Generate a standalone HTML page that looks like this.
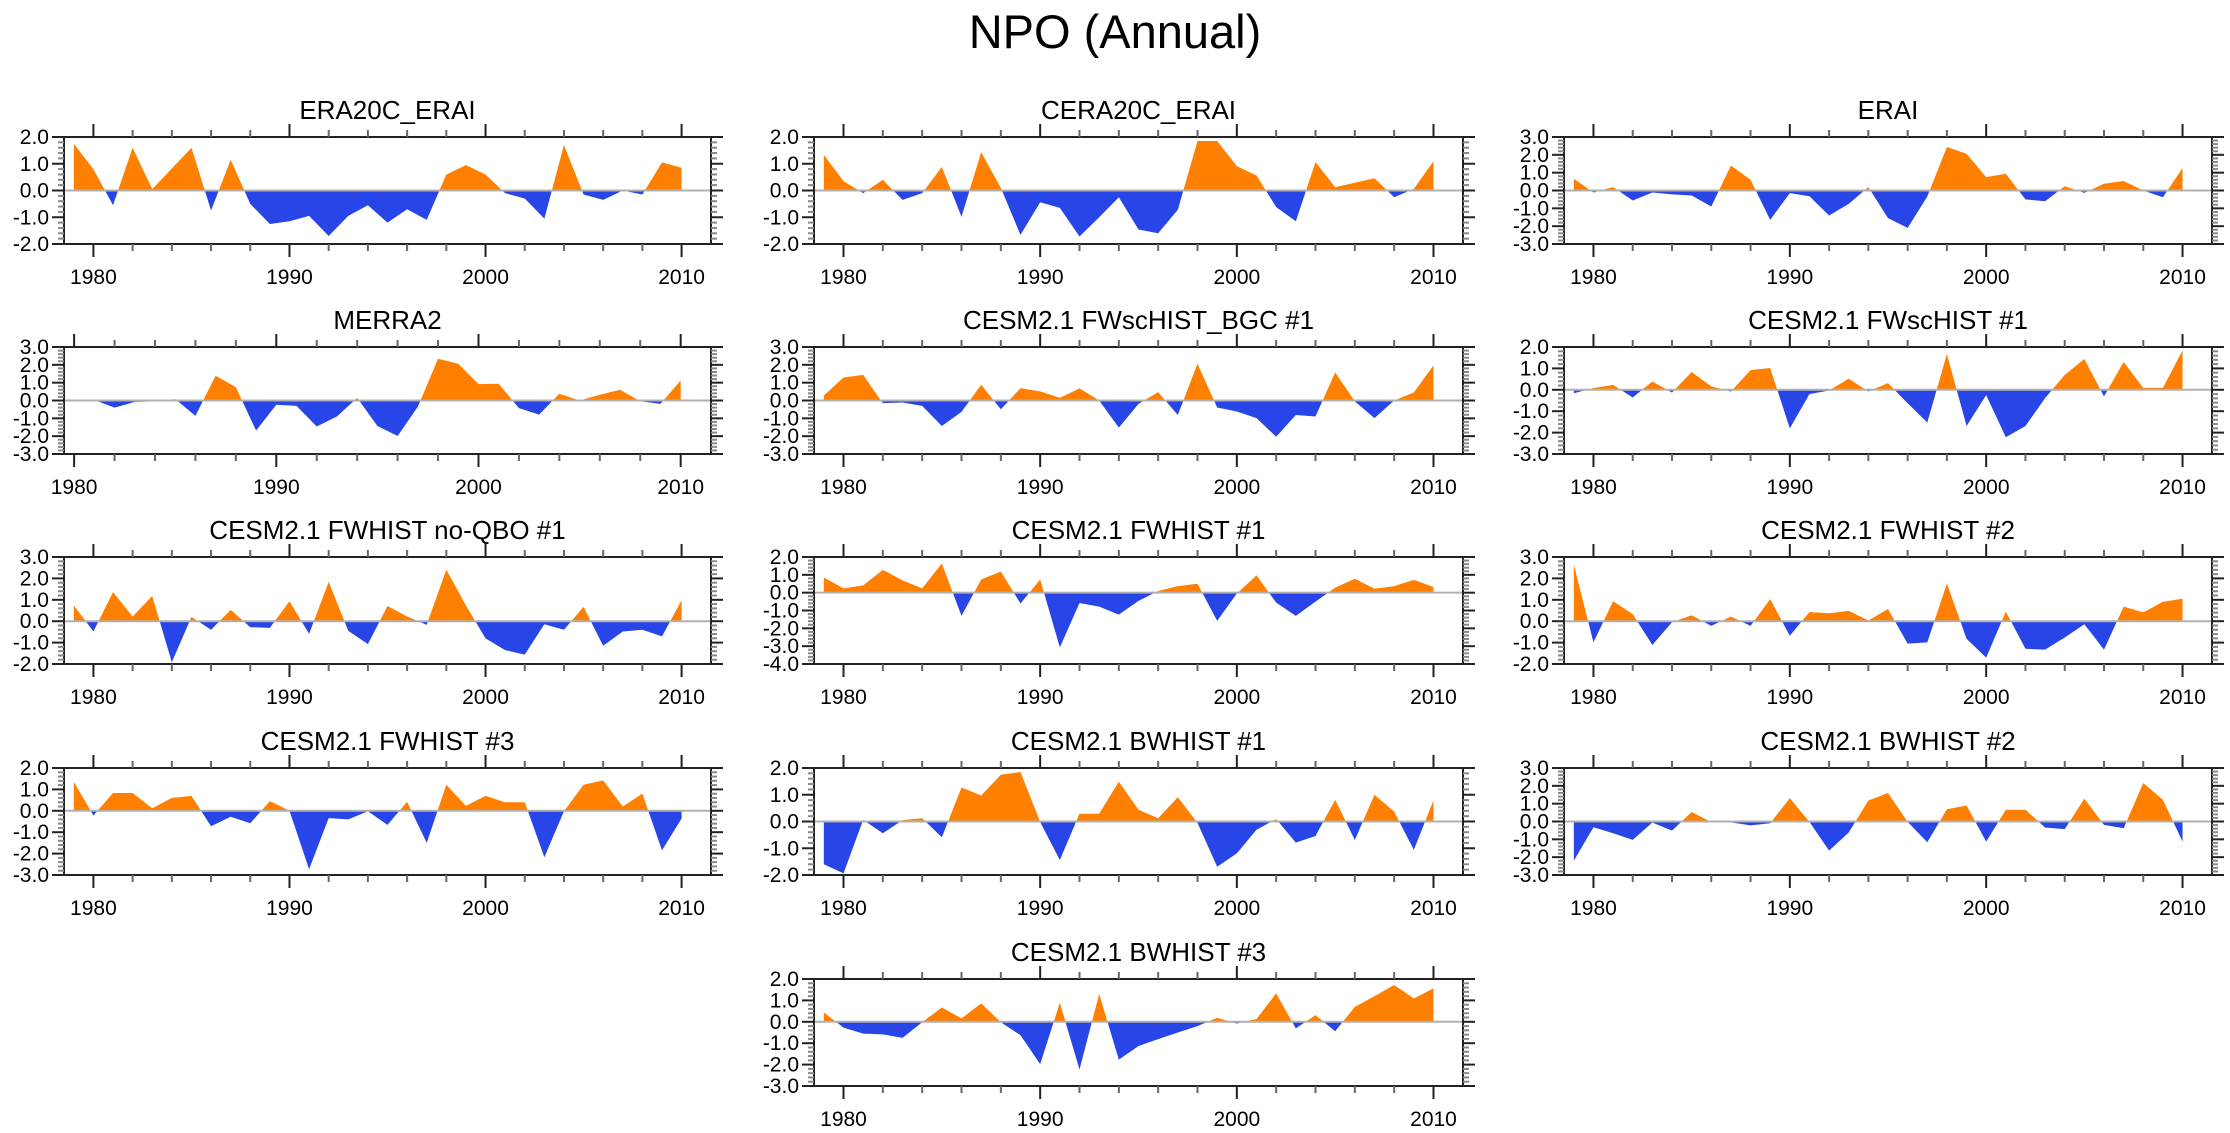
<!DOCTYPE html>
<html><head><meta charset="utf-8"><style>
html,body{margin:0;padding:0;background:#fff;}
svg{display:block;font-family:"Liberation Sans",Arial,sans-serif;}
</style></head><body>
<svg id="chart" width="2230" height="1133" viewBox="0 0 2230 1133" xmlns="http://www.w3.org/2000/svg">
<text x="1115" y="48" text-anchor="middle" font-size="47" fill="#000">NPO (Annual)</text>
</svg>
<script>
// ---- data (one array per panel) ----
const titles = ["ERA20C_ERAI","CERA20C_ERAI","ERAI","MERRA2","CESM2.1 FWscHIST_BGC #1","CESM2.1 FWscHIST #1","CESM2.1 FWHIST no-QBO #1","CESM2.1 FWHIST #1","CESM2.1 FWHIST #2","CESM2.1 FWHIST #3","CESM2.1 BWHIST #1","CESM2.1 BWHIST #2","CESM2.1 BWHIST #3"];
const firstYears = [1979,1979,1979,1980,1979,1979,1979,1979,1979,1979,1979,1979,1979];
const yMins = [-2,-2,-3,-3,-3,-3,-2,-4,-2,-3,-2,-3,-3];
const yMaxs = [2,2,3,3,3,2,3,2,3,2,2,3,2];
const xTickYears = [1980,1990,2000,2010];
const era20c = [1.75,0.8,-0.55,1.6,0.05,0.82,1.6,-0.75,1.15,-0.5,-1.25,-1.15,-0.95,-1.7,-0.95,-0.55,-1.2,-0.7,-1.1,0.6,0.95,0.6,-0.1,-0.3,-1.05,1.7,-0.15,-0.35,0.0,-0.15,1.05,0.85];
const cera20c = [1.33,0.35,-0.1,0.4,-0.35,-0.1,0.88,-0.98,1.43,0.1,-1.66,-0.44,-0.65,-1.72,-1.0,-0.25,-1.46,-1.6,-0.72,1.85,1.85,0.91,0.56,-0.62,-1.15,1.06,0.12,0.29,0.46,-0.25,0.06,1.1];
const erai = [0.66,-0.11,0.19,-0.56,-0.11,-0.22,-0.28,-0.9,1.4,0.6,-1.65,-0.15,-0.32,-1.4,-0.75,0.19,-1.55,-2.1,-0.34,2.44,2.06,0.75,0.94,-0.5,-0.6,0.24,-0.13,0.38,0.53,0.0,-0.38,1.26];
const merra2 = [0.04,0.03,-0.4,-0.08,-0.05,0.08,-0.86,1.39,0.75,-1.69,-0.24,-0.3,-1.46,-0.9,0.15,-1.43,-1.99,-0.35,2.34,2.06,0.92,0.94,-0.43,-0.79,0.38,0.0,0.32,0.6,-0.04,-0.19,1.12];
const fwschistBgc1 = [0.28,1.29,1.44,-0.15,-0.11,-0.3,-1.43,-0.64,0.88,-0.49,0.69,0.51,0.15,0.68,0.0,-1.52,-0.19,0.47,-0.81,2.06,-0.39,-0.62,-0.99,-2.03,-0.81,-0.9,1.58,-0.05,-0.99,0.0,0.45,1.97];
const fwschist1 = [-0.16,0.08,0.23,-0.36,0.39,-0.13,0.83,0.16,-0.08,0.92,1.02,-1.8,-0.2,-0.03,0.52,-0.08,0.31,-0.63,-1.53,1.67,-1.69,-0.25,-2.22,-1.69,-0.39,0.7,1.44,-0.31,1.3,0.09,0.09,1.84];
const fwhistNoQbo1 = [0.74,-0.48,1.36,0.22,1.18,-1.92,0.2,-0.4,0.53,-0.28,-0.31,0.93,-0.59,1.84,-0.45,-1.07,0.71,0.22,-0.17,2.41,0.74,-0.8,-1.35,-1.56,-0.14,-0.4,0.67,-1.15,-0.48,-0.4,-0.71,0.98];
const fwhist1 = [0.85,0.24,0.41,1.28,0.69,0.24,1.64,-1.3,0.74,1.19,-0.61,0.74,-3.07,-0.58,-0.78,-1.23,-0.46,0.09,0.37,0.5,-1.58,-0.05,0.97,-0.56,-1.3,-0.5,0.28,0.78,0.22,0.37,0.72,0.32];
const fwhist2 = [2.65,-0.99,0.93,0.33,-1.11,-0.05,0.28,-0.22,0.22,-0.22,1.03,-0.68,0.43,0.37,0.48,0.03,0.57,-1.05,-0.99,1.76,-0.82,-1.7,0.45,-1.29,-1.33,-0.76,-0.14,-1.33,0.68,0.41,0.91,1.05];
const fwhist3 = [1.35,-0.22,0.83,0.83,0.12,0.6,0.7,-0.72,-0.28,-0.58,0.45,0.0,-2.73,-0.34,-0.4,-0.02,-0.66,0.42,-1.5,1.22,0.23,0.7,0.4,0.4,-2.17,-0.02,1.22,1.42,0.2,0.8,-1.85,-0.36];
const bwhist1 = [-1.6,-1.94,0.06,-0.44,0.05,0.12,-0.59,1.27,0.97,1.75,1.85,-0.02,-1.44,0.29,0.29,1.49,0.44,0.12,0.91,-0.05,-1.69,-1.19,-0.31,0.09,-0.79,-0.54,0.81,-0.69,1.0,0.37,-1.06,0.79];
const bwhist2 = [-2.2,-0.32,-0.66,-1.03,-0.06,-0.51,0.53,-0.03,-0.05,-0.22,-0.1,1.31,-0.02,-1.63,-0.62,1.18,1.6,-0.02,-1.16,0.69,0.9,-1.13,0.66,0.66,-0.34,-0.43,1.28,-0.19,-0.38,2.16,1.22,-1.13];
const bwhist3 = [0.44,-0.27,-0.55,-0.59,-0.75,-0.02,0.67,0.16,0.86,-0.02,-0.63,-1.98,0.89,-2.23,1.3,-1.77,-1.13,-0.81,-0.5,-0.2,0.19,-0.08,0.13,1.33,-0.31,0.31,-0.44,0.7,1.2,1.72,1.09,1.56];
const seriesList = [era20c,cera20c,erai,merra2,fwschistBgc1,fwschist1,fwhistNoQbo1,fwhist1,fwhist2,fwhist3,bwhist1,bwhist2,bwhist3];

// ---- layout ----
const colL = [64,814,1564], colR = [711,1463,2212];
const rowT = [137,347,557,768,979], PH = 107;
const slots = [[0,0],[1,0],[2,0],[0,1],[1,1],[2,1],[0,2],[1,2],[2,2],[0,3],[1,3],[2,3],[1,4]];
const NS = "http://www.w3.org/2000/svg";
const svg = document.getElementById('chart');
function mk(tag, attrs, parent){ const e=document.createElementNS(NS,tag); for(const k in attrs) e.setAttribute(k,attrs[k]); (parent||svg).appendChild(e); return e; }

seriesList.forEach((vals, p) => {
  const L = colL[slots[p][0]], R = colR[slots[p][0]], T = rowT[slots[p][1]], B = T + PH;
  const x0 = firstYears[p] - 0.5, x1 = 2011.5;
  const xs = yr => L + (yr - x0) / (x1 - x0) * (R - L);
  const ys = v => B - (v - yMins[p]) / (yMaxs[p] - yMins[p]) * (B - T);
  const g = mk('g', {});
  
  
  const t = mk('text', {x:(L+R)/2, y:T-18, 'text-anchor':'middle', 'font-size':26, fill:'#000'}, g);
  t.textContent = titles[p];
  
  
  const y0 = ys(0);
  const defs = mk('defs', {}, g);
  const cu = mk('clipPath', {id:'cu'+p}, defs); mk('rect', {x:L, y:T, width:R-L, height:y0-T}, cu);
  const cd = mk('clipPath', {id:'cd'+p}, defs); mk('rect', {x:L, y:y0, width:R-L, height:B-y0}, cd);
  let d = 'M' + xs(firstYears[p]) + ',' + y0;
  vals.forEach((v,i) => { d += ' L' + xs(firstYears[p]+i).toFixed(2) + ',' + ys(v).toFixed(2); });
  d += ' L' + xs(firstYears[p]+vals.length-1) + ',' + y0 + ' Z';
  const pos = mk('path', {d:d, fill:'#ff8000', 'clip-path':'url(#cu'+p+')'}, g);
  
  
  const neg = mk('path', {d:d, fill:'#2845e8', 'clip-path':'url(#cd'+p+')'}, g);
  
  
  const zl = mk('line', {x1:L, x2:R, y1:y0, y2:y0, stroke:'#b0b0b0', 'stroke-width':2}, g);
  
  
  const fr = mk('rect', {x:L, y:T, width:R-L, height:PH, fill:'none', stroke:'#222', 'stroke-width':2}, g);
  
  
  const nMinor = Math.round((yMaxs[p]-yMins[p])/0.2);
  for (let k=0; k<=nMinor; k++){
    const v = yMins[p] + k*0.2, yy = ys(v), major = Math.abs(v-Math.round(v))<1e-6;
    const len = major ? 12 : 6, col = major ? '#222' : '#888';
    mk('line', {x1:L-len, x2:L, y1:yy, y2:yy, stroke:col, 'stroke-width':2}, g);
    mk('line', {x1:R, x2:R+len, y1:yy, y2:yy, stroke:col, 'stroke-width':2}, g);
    if (major){
      const yl = mk('text', {x:L-15, y:yy+7, 'text-anchor':'end', 'font-size':21, fill:'#000'}, g);
      yl.textContent = Math.round(v).toFixed(1);
      
      
    }
  }
  for (let yr=1980; yr<=2010; yr+=2){
    const xx = xs(yr), major = yr%10===0, len = major?13:7, col = major?'#222':'#666';
    mk('line', {x1:xx, x2:xx, y1:T-len, y2:T, stroke:col, 'stroke-width':2}, g);
    mk('line', {x1:xx, x2:xx, y1:B, y2:B+len, stroke:col, 'stroke-width':2}, g);
  }
  xTickYears.forEach(yr => {
    const xl = mk('text', {x:xs(yr), y:B+40, 'text-anchor':'middle', 'font-size':21, fill:'#000'}, g);
    xl.textContent = yr;
    
    
  });
});
</script>
</body></html>
